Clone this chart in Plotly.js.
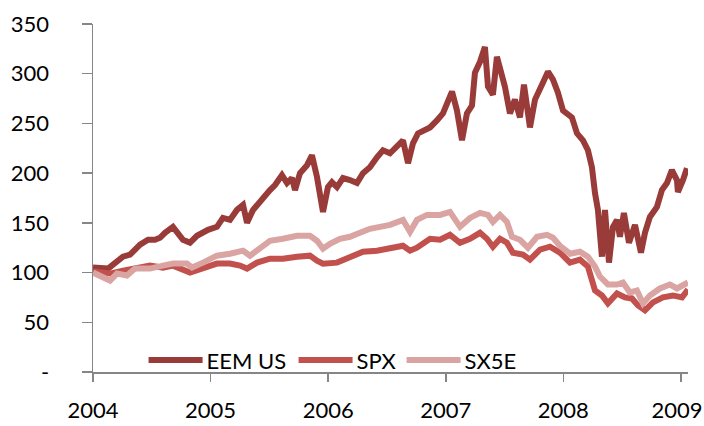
<!DOCTYPE html>
<html>
<head>
<meta charset="utf-8">
<script src="https://cdn.plot.ly/plotly-3.0.1.min.js"></script>
<style>html,body{margin:0;padding:0;background:#fff;}#chart{width:704px;height:426px;}</style>
</head>
<body>
<div id="chart"></div>
<script>
// x values are fractional years
var eemX = [2004.000,2004.128,2004.255,2004.315,2004.400,2004.468,2004.527,2004.570,2004.612,2004.680,2004.765,2004.825,2004.884,2004.978,2005.054,2005.105,2005.165,2005.224,2005.276,2005.310,2005.361,2005.420,2005.505,2005.548,2005.607,2005.650,2005.692,2005.718,2005.760,2005.820,2005.862,2005.905,2005.956,2005.998,2006.032,2006.075,2006.126,2006.185,2006.245,2006.296,2006.355,2006.415,2006.466,2006.526,2006.585,2006.636,2006.679,2006.721,2006.764,2006.806,2006.866,2006.925,2006.976,2007.053,2007.095,2007.138,2007.180,2007.223,2007.248,2007.291,2007.333,2007.359,2007.401,2007.435,2007.478,2007.503,2007.546,2007.588,2007.631,2007.665,2007.716,2007.759,2007.818,2007.869,2007.912,2007.954,2007.997,2008.073,2008.116,2008.167,2008.209,2008.243,2008.269,2008.294,2008.328,2008.354,2008.388,2008.422,2008.456,2008.481,2008.515,2008.558,2008.609,2008.660,2008.694,2008.736,2008.796,2008.838,2008.881,2008.923,2008.966,2008.974,2009.017,2009.051];
var eemY = [105,104,116,118,128,133,133,135,140,146,133,130,137,143,146,155,153,163,168,150,163,172,183,188,198,190,195,183,200,208,218,196,161,186,191,186,195,193,190,200,206,216,223,220,226,233,210,230,240,243,246,253,260,282,263,233,260,268,301,312,327,287,279,317,301,287,260,274,256,289,246,274,289,302,294,281,263,256,240,233,223,206,180,163,116,163,110,146,153,136,160,130,148,120,140,156,166,183,190,203,193,181,193,205];

var spxX = [2004.000,2004.145,2004.255,2004.374,2004.485,2004.595,2004.680,2004.825,2004.935,2005.054,2005.165,2005.250,2005.310,2005.395,2005.505,2005.616,2005.735,2005.845,2005.905,2005.956,2006.075,2006.185,2006.296,2006.415,2006.526,2006.636,2006.696,2006.755,2006.866,2006.951,2007.036,2007.121,2007.206,2007.291,2007.350,2007.401,2007.461,2007.520,2007.571,2007.656,2007.716,2007.801,2007.886,2007.971,2008.056,2008.141,2008.209,2008.269,2008.328,2008.379,2008.456,2008.524,2008.583,2008.634,2008.694,2008.762,2008.847,2008.932,2009.009,2009.060];
var spxY = [101,99,102,105,107,105,107,100,105,109,109,107,104,110,114,114,116,117,112,109,110,116,121,122,125,127,122,125,134,133,138,130,134,140,134,126,134,130,120,118,113,123,126,120,110,113,106,82,77,69,79,75,74,67,62,70,75,77,75,83];

var sx5eX = [2004.000,2004.145,2004.204,2004.289,2004.357,2004.485,2004.595,2004.680,2004.799,2004.842,2004.935,2005.054,2005.165,2005.276,2005.335,2005.420,2005.505,2005.616,2005.735,2005.845,2005.905,2005.956,2006.015,2006.100,2006.185,2006.270,2006.355,2006.440,2006.526,2006.636,2006.696,2006.755,2006.840,2006.951,2007.036,2007.121,2007.206,2007.291,2007.359,2007.401,2007.461,2007.520,2007.563,2007.631,2007.699,2007.776,2007.861,2007.912,2007.971,2008.056,2008.141,2008.209,2008.269,2008.311,2008.379,2008.456,2008.507,2008.566,2008.626,2008.677,2008.736,2008.821,2008.906,2008.966,2009.017,2009.060];
var sx5eY = [100,92,99,97,104,104,107,109,109,105,110,117,119,122,117,124,132,134,137,137,132,124,129,134,136,140,144,146,148,153,141,153,158,158,161,146,155,160,158,151,158,151,136,133,125,136,138,135,127,119,121,116,106,96,88,88,90,80,82,69,77,84,88,84,88,90];

var seriesNames = ['EEM US','SPX','SX5E'];
var seriesColors = ['#993B38','#C2504D','#D9A4A2'];
var yTickVals = [0,50,100,150,200,250,300,350];
var yTickText = ['-','50','100','150','200','250','300','350'];
var xTickVals = [2004,2005,2006,2007,2008,2009];
var xTickText = ['2004','2005','2006','2007','2008','2009'];

var xs = [eemX, spxX, sx5eX], ys = [eemY, spxY, sx5eY];
var traces = xs.map(function(x,i){
  return {x:x, y:ys[i], type:'scatter', mode:'lines', name:seriesNames[i],
    line:{color:seriesColors[i], width:6}};
});

var FONT = 'Lato, "Open Sans", sans-serif';
var layout = {
  width:704, height:426,
  margin:{l:93, r:16, t:24, b:54},
  paper_bgcolor:'#fff', plot_bgcolor:'#fff',
  font:{family:FONT, size:22, color:'#000'},
  showlegend:true,
  legend:{orientation:'h', x:0.085, y:0.034, xanchor:'left', yanchor:'middle',
    bgcolor:'rgba(0,0,0,0)', font:{family:FONT, size:22, color:'#000'}, itemwidth:53, tracegroupgap:0},
  xaxis:{range:[2004,2009.06], tickvals:xTickVals, ticktext:xTickText, showgrid:false, zeroline:false,
    showline:true, linecolor:'#868686', linewidth:1.5, ticks:'outside', ticklen:8, tickcolor:'#868686', tickwidth:1.5,
    ticklabelstandoff:10, ticklabeloverflow:'allow', fixedrange:true},
  yaxis:{range:[0,350], tickvals:yTickVals, ticktext:yTickText, showgrid:false, zeroline:false,
    showline:true, linecolor:'#868686', linewidth:1.5, ticks:'outside', ticklen:10, tickcolor:'#868686', tickwidth:1.5,
    ticklabelstandoff:28, fixedrange:true}
};
Plotly.newPlot('chart', traces, layout, {staticPlot:true, displayModeBar:false}).then(function(gd){
  gd.querySelectorAll('.legend .legendlines path').forEach(function(p){
    p.setAttribute('d','M5,0h54');
  });
  // legend entry spacing as in the reference
  var offsets = [0,150,258];
  var items = gd.querySelectorAll('.legend .traces');
  var x0 = null;
  items.forEach(function(g,i){
    var m = /translate\(\s*([-\d.]+)[ ,]+([-\d.]+)\s*\)/.exec(g.getAttribute('transform')||'');
    if(!m) return;
    var x = parseFloat(m[1]), y = parseFloat(m[2]);
    if(x0 === null) x0 = x;
    g.setAttribute('transform','translate('+(x0+offsets[i])+','+y+')');
  });
  // keep the last year label inside the page
  gd.querySelectorAll('.xtick text').forEach(function(t){
    if(t.textContent === '2009'){
      t.setAttribute('x', parseFloat(t.getAttribute('x')||0) - 4);
    }
  });
});
</script>
</body>
</html>
